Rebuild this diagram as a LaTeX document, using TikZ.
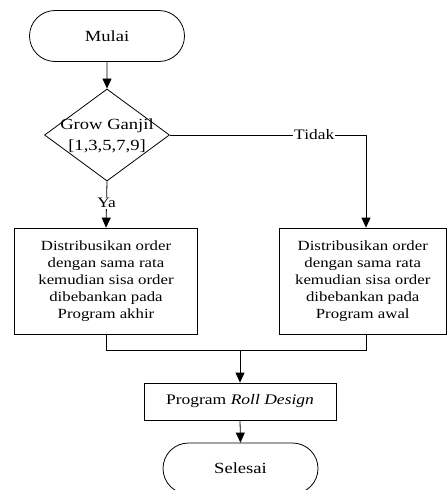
\documentclass[tikz,border=0pt]{standalone}
\usepackage{fontspec}
\setmainfont[FakeStretch=1.2]{Liberation Serif}
\usetikzlibrary{shapes.misc,shapes.geometric,arrows.meta,calc}
\begin{document}
\begin{tikzpicture}[x=1pt,y=-1pt,
  every node/.style={font=\fontsize{14}{17}\selectfont},
  term/.style={draw, rounded rectangle, minimum width=155pt, minimum height=51pt, line width=0.8pt, inner sep=0, font=\fontsize{15.5}{18}\selectfont},
  box/.style={draw, line width=0.8pt, align=center, inner sep=0},
  line/.style={line width=0.8pt},
  arr/.style={line, -{Triangle[width=9pt,length=10pt]}},
  lab/.style={fill=white, inner sep=1pt, font=\fontsize{14.5}{17}\selectfont}]
\useasboundingbox (0,0) rectangle (447,490);
\node[term] (start) at (107,36) {Mulai};
\node[draw, diamond, line width=0.8pt, minimum width=125pt, minimum height=92pt, inner sep=0] (dec) at (107,135) {};
\node[align=center, font=\fontsize{15.5}{21}\selectfont, inner sep=0] (dectext) at (107,136) {Grow Ganjil\\{[}1,3,5,7,9{]}};
\node[box, minimum width=183pt, minimum height=106pt] (left) at (106,281) {Distribusikan order\\dengan sama rata\\kemudian sisa order\\dibebankan pada\\Program akhir};
\node[box, minimum width=167.5pt, minimum height=106pt] (right) at (362.75,281) {Distribusikan order\\dengan sama rata\\kemudian sisa order\\dibebankan pada\\Program awal};
\node[box, minimum width=192pt, minimum height=37pt, font=\fontsize{14.6}{17}\selectfont] (prog) at (240,401.5) {Program \textit{Roll Design}};
\node[term] (end) at (240.5,468.5) {Selesai};
\coordinate (tc) at (366,135);
\coordinate (rin) at ($(right.north)+(3.25,0)$);
\coordinate (rout) at ($(right.south)+(3.25,0)$);
\coordinate (m) at (240,350);
\draw[arr] (start) -- (dec);
\draw[arr] (dec.south) -- node[lab, pos=0.47] (ya) {Ya} (left.north);
\draw[line] (dec.east) -- node[lab, pos=0.736] (tidak) {Tidak} (tc);
\draw[arr] (tc) -- (rin);
\draw[line] (left.south) |- (m);
\draw[line] (rout) |- (m);
\draw[arr] (m) -- (prog.north);
\draw[arr] (prog.south) -- (end.north);
\end{tikzpicture}
\end{document}
